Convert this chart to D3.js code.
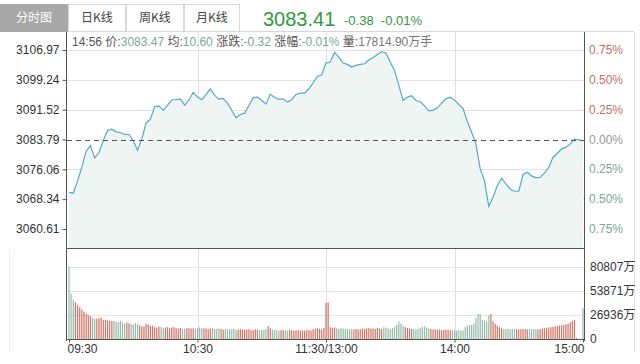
<!DOCTYPE html>
<html>
<head>
<meta charset="utf-8">
<script src="https://cdn.jsdelivr.net/npm/d3@7"></script>
<style>
body { margin: 0; background: #fff; }
svg { display: block; font-family: "Liberation Sans", Arial, "Noto Sans CJK SC", sans-serif; }
</style>
</head>
<body>
<div id="chart"></div>
<script>
// chart data
const preClose = 3083.79;
const lastPrice = '3083.41';
const lastChange = '-0.38  -0.01%';
const tabs = ['分时图', '日K线', '周K线', '月K线'];
const priceTicks = [3060.61, 3068.34, 3076.06, 3083.79, 3091.52, 3099.24, 3106.97];
const pctLabels = ['0.75%', '0.50%', '0.25%', '0.00%', '0.25%', '0.50%', '0.75%'];
const timeTicks = [0, 60, 120, 180, 240];
const timeLabels = ['09:30', '10:30', '11:30/13:00', '14:00', '15:00'];
const volTicks = [0, 26936, 53871, 80807];
const volLabels = ['0', '26936万', '53871万', '80807万'];
const infoParts = [
  ['14:56 价:', '3083.47'], [' 均:', '10.60'], [' 涨跌:', '-0.32'], [' 涨幅:', '-0.01%'], [' 量:', '17814.90万手']
];

// index price, one reading every 2 minutes from 09:30 (121 points)
const prices = [
  3070.13, 3069.88, 3073.07, 3076.62, 3080.77, 3082.23, 3079.04, 3080.42, 3083.53, 3086.12,
  3086.47, 3085.78, 3085.61, 3085.09, 3085.09, 3083.53, 3081.02, 3083.96, 3088.03, 3089.06,
  3092.35, 3092.43, 3091.40, 3092.61, 3094.08, 3094.08, 3094.33, 3092.69, 3094.08, 3095.98,
  3094.77, 3094.08, 3095.46, 3096.93, 3095.20, 3094.25, 3094.42, 3093.21, 3091.31, 3089.41,
  3090.27, 3090.62, 3092.61, 3094.59, 3094.77, 3093.90, 3092.95, 3095.54, 3094.68, 3094.16,
  3094.33, 3093.47, 3094.16, 3095.46, 3095.80, 3095.80, 3096.93, 3098.48, 3100.13, 3100.56,
  3103.58,
  3103.84, 3106.35, 3105.14, 3103.58, 3103.24, 3102.55, 3102.98, 3103.24, 3103.41, 3104.45,
  3105.05, 3105.83, 3106.52, 3106.18, 3103.84, 3101.68, 3097.79, 3093.90, 3094.77, 3095.11,
  3093.90, 3093.56, 3092.52, 3091.22, 3091.40, 3092.00, 3093.21, 3094.33, 3094.77, 3093.99,
  3092.87, 3091.83, 3088.46, 3085.69, 3082.67, 3076.18, 3073.16, 3066.50, 3068.84, 3071.86,
  3073.76, 3072.30, 3070.91, 3070.39, 3070.39, 3074.72, 3075.32, 3074.37, 3073.85, 3074.02,
  3075.06, 3076.53, 3079.21, 3080.16, 3081.37, 3081.80, 3082.58, 3083.88, 3083.70, 3083.47
];

// volume per minute, 万 (241 bars)
const volumes = [
  80807, 50600, 44200, 41200, 38200, 35500, 32900, 30600, 28400, 26800,
  25300, 23400, 22300, 22700, 23000, 24200, 21500, 21500, 20800, 20400,
  20000, 20400, 19300, 18500, 20400, 17800, 17000, 18500, 17400, 16600,
  16000, 17800, 17000, 15000, 14000, 14000, 17000, 16000, 14700, 15000,
  13200, 12800, 14000, 13200, 12000, 12800, 13200, 12000, 12800, 13200,
  12000, 11700, 12400, 11000, 11700, 12400, 12000, 11700, 12000, 11300,
  12000, 12800, 12400, 11700, 12000, 11300, 11700, 12000, 11000, 11300,
  11700, 11000, 10600, 11300, 11000, 10600, 11000, 11300, 10200, 10600,
  11000, 10600, 10200, 10600, 11000, 10200, 9800, 10600, 10200, 9800,
  10200, 10600, 11000, 14400, 12000, 10600, 9800, 10200, 9400, 9800,
  10200, 9800, 9400, 10200, 9800, 9400, 9800, 10200, 9400, 9800,
  9400, 9800, 10200, 9400, 11000, 11700, 12000, 11300, 10600, 12400,
  40500, 40900, 13200, 12400, 12800, 12000, 11300, 12400, 11700, 11000,
  11300, 10600, 11000, 10600, 11300, 10600, 11000, 11700, 11300, 12000,
  12400, 11700, 12000, 11300, 12400, 11700, 11000, 13200, 12400, 11700,
  11000, 12000, 13600, 16000, 19700, 17000, 14700, 13200, 12400, 11700,
  11000, 11300, 10600, 11300, 12400, 13600, 14000, 12800, 11700, 11000,
  10600, 11000, 10200, 10600, 9800, 10200, 10600, 10200, 9800, 10200,
  9800, 9400, 9800, 9400, 9800, 13200, 14900, 15600, 15600, 17000,
  23400, 27900, 27900, 21500, 20800, 19700, 26000, 27900, 19700, 17000,
  14900, 13200, 12000, 11000, 11300, 11000, 10600, 11000, 11300, 11000,
  10600, 11000, 11300, 11000, 10600, 11000, 10600, 11300, 11000, 10600,
  11000, 11700, 12000, 12400, 12800, 13200, 13600, 14000, 14400, 14900,
  15300, 15600, 16400, 17000, 18500, 20400, 21500, 1500, 0, 0,
  34600
];

const W = 640, H = 364;
const L = 67, R = 584;
const pTop = 32, pBot = 248, vBot = 339;
const upColor = '#cf7466', downColor = '#93bba9';

const svg = d3.select('#chart').append('svg')
  .attr('width', W)
  .attr('height', H);

const x = d3.scaleLinear().domain([0, 240]).range([69, 583]);
const y = d3.scaleLinear().domain([priceTicks[0], priceTicks[6]]).range([229, 50]);
const yv = d3.scaleLinear().domain([0, 80807]).range([vBot, 266.7]);

// outer frame bits
svg.append('line').attr('x1', 0).attr('x2', 634).attr('y1', pTop - 0.5).attr('y2', pTop - 0.5)
  .attr('stroke', '#d6d6d6');
svg.append('line').attr('x1', 634.5).attr('x2', 634.5).attr('y1', pTop).attr('y2', 352)
  .attr('stroke', '#e2e2e2');
svg.append('line').attr('x1', 9.5).attr('x2', 9.5).attr('y1', 250).attr('y2', 352)
  .attr('stroke', '#ececec');

// tabs
const tabX = [0, 68, 126, 184, 240];
const tabG = svg.append('g');
tabs.forEach((t, i) => {
  tabG.append('rect')
    .attr('x', tabX[i] + 0.5).attr('y', 4.5)
    .attr('width', tabX[i + 1] - tabX[i] - 1).attr('height', pTop - 5)
    .attr('fill', i === 0 ? '#a8a8a8' : '#fff')
    .attr('stroke', i === 0 ? '#a8a8a8' : '#d8d8d8');
  tabG.append('text')
    .attr('x', (tabX[i] + tabX[i + 1]) / 2).attr('y', 22)
    .attr('text-anchor', 'middle')
    .attr('font-size', 12)
    .attr('font-family', '"Noto Sans CJK SC", sans-serif')
    .attr('fill', i === 0 ? '#fff' : '#444')
    .text(t);
});

svg.append('text').attr('x', 263).attr('y', 26)
  .attr('font-size', 20).attr('fill', '#2f9a3c').text(lastPrice);
svg.append('text').attr('x', 344).attr('y', 25)
  .attr('font-size', 13).attr('fill', '#2f9a3c')
  .style('white-space', 'pre').text(lastChange);

// clip for the price area
svg.append('clipPath').attr('id', 'pclip')
  .append('rect').attr('x', L).attr('y', pTop).attr('width', R - L).attr('height', pBot - pTop);

// grid
svg.append('g').selectAll('line')
  .data(priceTicks.filter(d => d !== preClose))
  .join('line')
  .attr('x1', L).attr('x2', R)
  .attr('y1', d => Math.round(y(d)) + 0.5).attr('y2', d => Math.round(y(d)) + 0.5)
  .attr('stroke', '#e3e3e3');
svg.append('g').selectAll('line')
  .data(volTicks.slice(1))
  .join('line')
  .attr('x1', L).attr('x2', R)
  .attr('y1', d => Math.round(yv(d)) + 0.5).attr('y2', d => Math.round(yv(d)) + 0.5)
  .attr('stroke', '#e3e3e3');
svg.append('g').selectAll('line')
  .data(timeTicks.slice(1, 4))
  .join('line')
  .attr('x1', d => Math.round(x(d)) + 0.5).attr('x2', d => Math.round(x(d)) + 0.5)
  .attr('y1', pTop).attr('y2', vBot)
  .attr('stroke', '#e0e0e0');

// price area + line
const area = d3.area()
  .x((d, i) => x(i * 2))
  .y0(pBot)
  .y1(d => y(d));
const line = d3.line()
  .x((d, i) => x(i * 2))
  .y(d => y(d));
const pg = svg.append('g').attr('clip-path', 'url(#pclip)');
pg.append('path').datum(prices).attr('d', area).attr('fill', '#eef5f3');
pg.append('path').datum(prices).attr('d', line)
  .attr('fill', 'none').attr('stroke', '#55a9c3').attr('stroke-width', 1.2);

// pre-close dashed line
svg.append('line')
  .attr('x1', L).attr('x2', R)
  .attr('y1', Math.round(y(preClose)) + 0.5).attr('y2', Math.round(y(preClose)) + 0.5)
  .attr('stroke', '#555').attr('stroke-dasharray', '5,4');

// info row
const info = svg.append('text').attr('x', 72).attr('y', 46)
  .attr('font-size', 12)
  .style('white-space', 'pre');
infoParts.forEach(p => {
  info.append('tspan').attr('fill', '#555').text(p[0]);
  info.append('tspan').attr('fill', p[1].endsWith('手') ? '#777' : '#78a896').text(p[1]);
});

// volume bars
const upAt = i => {
  const k = Math.ceil(i / 2);
  const prev = k === 0 ? preClose : prices[k - 1];
  return prices[k] >= prev;
};
svg.append('g').selectAll('rect')
  .data(volumes)
  .join('rect')
  .attr('x', (d, i) => x(i) - 0.6)
  .attr('width', 1.2)
  .attr('y', d => yv(d))
  .attr('height', d => vBot - yv(d))
  .attr('fill', (d, i) => upAt(i) ? upColor : downColor);

// axes lines
const axisColor = '#555';
svg.append('line').attr('x1', L - 0.5).attr('x2', L - 0.5).attr('y1', pTop).attr('y2', vBot + 2).attr('stroke', axisColor);
svg.append('line').attr('x1', R + 0.5).attr('x2', R + 0.5).attr('y1', pTop).attr('y2', vBot + 2).attr('stroke', axisColor);
svg.append('line').attr('x1', L).attr('x2', R).attr('y1', pBot + 0.5).attr('y2', pBot + 0.5).attr('stroke', axisColor);
svg.append('line').attr('x1', L).attr('x2', R).attr('y1', vBot + 0.5).attr('y2', vBot + 0.5).attr('stroke', axisColor);

// left price axis
const yAxis = d3.axisLeft(y).tickValues(priceTicks).tickSize(4).tickFormat(d3.format('.2f'));
svg.append('g').attr('transform', `translate(${L - 0.5},0)`).call(yAxis)
  .call(g => g.select('.domain').remove())
  .call(g => g.selectAll('line').attr('stroke', axisColor))
  .call(g => g.selectAll('text').attr('font-size', 12).attr('fill', '#333')
    .attr('font-family', '"Liberation Sans", Arial, sans-serif'));

// right percent labels
svg.append('g').selectAll('text')
  .data(priceTicks)
  .join('text')
  .attr('x', R + 5)
  .attr('y', d => y(d) + 4)
  .attr('font-size', 12)
  .attr('fill', d => d > preClose ? '#c5705f' : d < preClose ? '#7ea596' : '#999')
  .text((d, i) => pctLabels[i]);

// right volume labels
svg.append('g').selectAll('text')
  .data(volTicks)
  .join('text')
  .attr('x', R + 6)
  .attr('y', d => yv(d) + 4)
  .attr('font-size', 12)
  .attr('fill', '#333')
  .text((d, i) => volLabels[i]);

// time axis
const xAxis = d3.axisBottom(x).tickValues(timeTicks).tickSize(3).tickFormat((d, i) => timeLabels[i]);
svg.append('g').attr('transform', `translate(0,${vBot + 0.5})`).call(xAxis)
  .call(g => g.select('.domain').remove())
  .call(g => g.selectAll('line').attr('stroke', axisColor))
  .call(g => g.selectAll('text').attr('font-size', 12).attr('fill', '#333').attr('dy', '0.6em')
    .attr('font-family', '"Liberation Sans", Arial, sans-serif')
    .attr('text-anchor', (d, i) => i === 0 ? 'start' : i === 4 ? 'end' : 'middle')
    .attr('dx', (d, i) => i === 0 ? -2 : i === 4 ? 1 : 0));
</script>
</body>
</html>
